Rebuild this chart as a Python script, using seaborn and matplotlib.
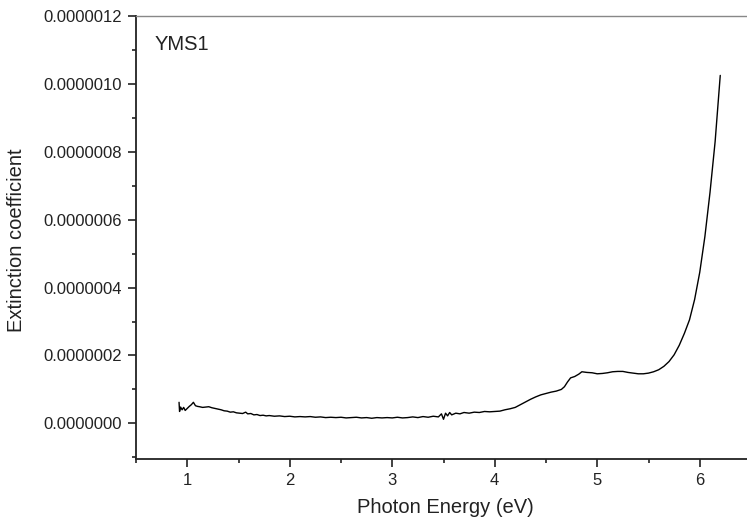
import numpy as np
import pandas as pd
import matplotlib
matplotlib.use("Agg")
import matplotlib.pyplot as plt
import seaborn as sns
from matplotlib.ticker import MultipleLocator, FormatStrFormatter

# Photon energy (eV) and extinction coefficient (in units of 1e-7)
energy = [0.92, 0.925, 0.935, 0.95, 0.965, 0.98, 1.00, 1.02, 1.04, 1.06, 1.08, 1.10,
          1.12, 1.15, 1.18, 1.21, 1.24, 1.27, 1.30, 1.33, 1.36, 1.39, 1.42, 1.45,
          1.48, 1.51, 1.54, 1.57, 1.59, 1.62, 1.65, 1.68, 1.71, 1.74, 1.77, 1.80,
          1.85, 1.90, 1.95, 2.00, 2.05, 2.10, 2.15, 2.20, 2.25, 2.30, 2.35, 2.40,
          2.45, 2.50, 2.55, 2.60, 2.65, 2.70, 2.75, 2.80, 2.85, 2.90, 2.95, 3.00,
          3.05, 3.10, 3.15, 3.20, 3.25, 3.30, 3.35, 3.40, 3.45, 3.48, 3.50, 3.52,
          3.54, 3.56, 3.58, 3.62, 3.66, 3.70, 3.75, 3.80, 3.85, 3.90, 3.95, 4.00,
          4.05, 4.10, 4.15, 4.20, 4.25, 4.30, 4.35, 4.40, 4.45, 4.50, 4.55, 4.60,
          4.65, 4.68, 4.71, 4.74, 4.78, 4.82, 4.85, 4.90, 4.95, 5.00, 5.05, 5.10,
          5.15, 5.20, 5.25, 5.30, 5.35, 5.40, 5.45, 5.50, 5.55, 5.60, 5.65, 5.70,
          5.75, 5.80, 5.85, 5.90, 5.95, 6.00, 6.05, 6.10, 6.15, 6.20]
extinction_e7 = [0.62, 0.35, 0.48, 0.40, 0.47, 0.38, 0.44, 0.50, 0.55, 0.62, 0.52, 0.50,
                 0.49, 0.47, 0.48, 0.49, 0.46, 0.44, 0.42, 0.40, 0.37, 0.36, 0.33, 0.34,
                 0.31, 0.30, 0.29, 0.33, 0.28, 0.29, 0.25, 0.26, 0.23, 0.24, 0.22, 0.23,
                 0.21, 0.22, 0.20, 0.21, 0.19, 0.20, 0.19, 0.20, 0.18, 0.19, 0.17, 0.18,
                 0.17, 0.18, 0.16, 0.17, 0.18, 0.16, 0.17, 0.15, 0.17, 0.16, 0.17, 0.16,
                 0.18, 0.16, 0.17, 0.19, 0.17, 0.20, 0.18, 0.21, 0.19, 0.28, 0.12, 0.30,
                 0.22, 0.32, 0.25, 0.30, 0.28, 0.32, 0.30, 0.33, 0.32, 0.35, 0.34, 0.35,
                 0.36, 0.40, 0.43, 0.47, 0.55, 0.63, 0.71, 0.78, 0.84, 0.88, 0.92, 0.95,
                 1.00, 1.08, 1.22, 1.34, 1.38, 1.45, 1.52, 1.50, 1.49, 1.46, 1.47, 1.49,
                 1.52, 1.53, 1.53, 1.50, 1.48, 1.46, 1.46, 1.48, 1.52, 1.58, 1.68, 1.82,
                 2.02, 2.30, 2.65, 3.05, 3.65, 4.45, 5.50, 6.80, 8.30, 10.25]

sample_label = "YMS1"
x_label = "Photon Energy (eV)"
y_label = "Extinction coefficient"

df = pd.DataFrame({"energy": energy, "k": np.array(extinction_e7) * 1e-7})

sns.set_style("ticks")
plt.rcParams["font.family"] = ["Liberation Sans", "DejaVu Sans"]

fig = plt.figure(figsize=(7.47, 5.29), dpi=100)
ax = fig.add_axes([136 / 747, 1 - 459 / 529, 615 / 747, 443 / 529])

sns.lineplot(data=df, x="energy", y="k", ax=ax, color="black", linewidth=1.0, sort=False)

ax.set_xlim(0.5, 6.5)
ax.set_ylim(-1.05e-7, 1.2e-6)
ax.xaxis.set_major_locator(MultipleLocator(1))
ax.xaxis.set_minor_locator(MultipleLocator(0.5))
ax.yaxis.set_major_locator(MultipleLocator(2e-7))
ax.yaxis.set_minor_locator(MultipleLocator(1e-7))
ax.yaxis.set_major_formatter(FormatStrFormatter("%.7f"))
ax.xaxis.set_major_formatter(FormatStrFormatter("%d"))

ax.tick_params(which="major", direction="out", length=6, width=1.2, labelsize=12,
               colors="#222222", pad=4)
ax.tick_params(which="minor", direction="out", length=2.8, width=1.2, colors="#222222")
ax.tick_params(top=False, right=False)

for s in ["left", "bottom"]:
    ax.spines[s].set_linewidth(1.3)
    ax.spines[s].set_color("#222222")
ax.spines["top"].set_visible(True)
ax.spines["top"].set_color("#888888")
ax.spines["top"].set_linewidth(1.0)
ax.spines["right"].set_visible(False)

ax.set_xlabel(x_label, fontsize=14.5, color="#222222")
ax.set_ylabel(y_label, fontsize=14.5, color="#222222")
ax.xaxis.set_label_coords((445 - 136) / 615, (459 - 498) / 443)
ax.yaxis.set_label_coords((26 - 136) / 615, (459 - 240) / 443)

ax.text((155 - 136) / 615, (459 - 45) / 443, sample_label, transform=ax.transAxes,
        fontsize=14.5, va="center", ha="left", color="#222222")

fig.savefig("out.png", dpi=100)
